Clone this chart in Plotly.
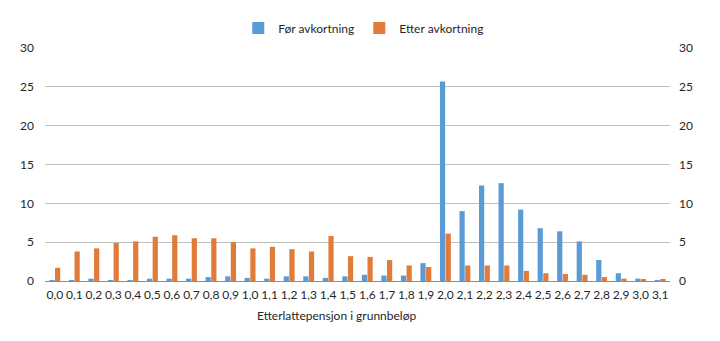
import plotly.graph_objects as go

categories = ["0,0","0,1","0,2","0,3","0,4","0,5","0,6","0,7","0,8","0,9",
              "1,0","1,1","1,2","1,3","1,4","1,5","1,6","1,7","1,8","1,9",
              "2,0","2,1","2,2","2,3","2,4","2,5","2,6","2,7","2,8","2,9",
              "3,0","3,1"]
for_avkortning = [0.1,0.1,0.3,0.1,0.1,0.3,0.3,0.3,0.5,0.6,
                  0.4,0.3,0.6,0.6,0.4,0.6,0.8,0.7,0.7,2.3,
                  25.7,9.0,12.3,12.6,9.2,6.8,6.4,5.1,2.7,1.0,
                  0.3,0.1]
etter_avkortning = [1.7,3.8,4.2,4.9,5.1,5.7,5.9,5.5,5.5,5.0,
                    4.2,4.4,4.1,3.8,5.8,3.2,3.1,2.7,2.0,1.8,
                    6.1,2.0,2.0,2.0,1.3,1.0,0.9,0.8,0.5,0.3,
                    0.2,0.2]
y_ticks = [0, 5, 10, 15, 20, 25, 30]

FONT = "Lato"
fig = go.Figure()
fig.add_trace(go.Bar(x=categories, y=for_avkortning, name="Før avkortning",
                     marker=dict(color="#5B9BD5", line=dict(width=0))))
fig.add_trace(go.Bar(x=categories, y=etter_avkortning, name="Etter avkortning",
                     marker=dict(color="#E07B39", line=dict(width=0))))
fig.add_trace(go.Scatter(x=categories, y=etter_avkortning, yaxis="y2", mode="lines",
                         line=dict(width=0), opacity=0, showlegend=False, hoverinfo="skip"))

fig.update_layout(
    width=720, height=341,
    margin=dict(l=45, r=50, t=48, b=60),
    paper_bgcolor="white", plot_bgcolor="white",
    font=dict(family=FONT, size=12, color="#262626"),
    barmode="group", bargap=0.42, bargroupgap=0.08,
    showlegend=True,
    legend=dict(orientation="h", x=0.51, xanchor="center", y=1.086, yanchor="middle",
                font=dict(size=12, color="#262626"), itemwidth=30,
                bgcolor="rgba(0,0,0,0)"),
    xaxis=dict(type="category", showgrid=False, ticks="", tickfont=dict(size=12),
               showline=True, linecolor="#8c8c8c", linewidth=1, ticklabelstandoff=3),
    yaxis=dict(range=[0, 30], tickvals=y_ticks, showgrid=True, gridcolor="#bfbfbf",
               gridwidth=1, zeroline=False, ticks="", ticklabelstandoff=10,
               tickfont=dict(size=12)),
    yaxis2=dict(range=[0, 30], tickvals=y_ticks, overlaying="y", side="right",
                showgrid=False, zeroline=False, ticks="", ticklabelstandoff=8,
                tickfont=dict(size=12)),
    annotations=[dict(text="Etterlattepensjon i grunnbeløp", xref="paper", yref="paper",
                      x=0.466, y=-0.150, xanchor="center", yanchor="middle",
                      showarrow=False, font=dict(size=12, color="#262626"))],
)
fig.write_html("out.html")
